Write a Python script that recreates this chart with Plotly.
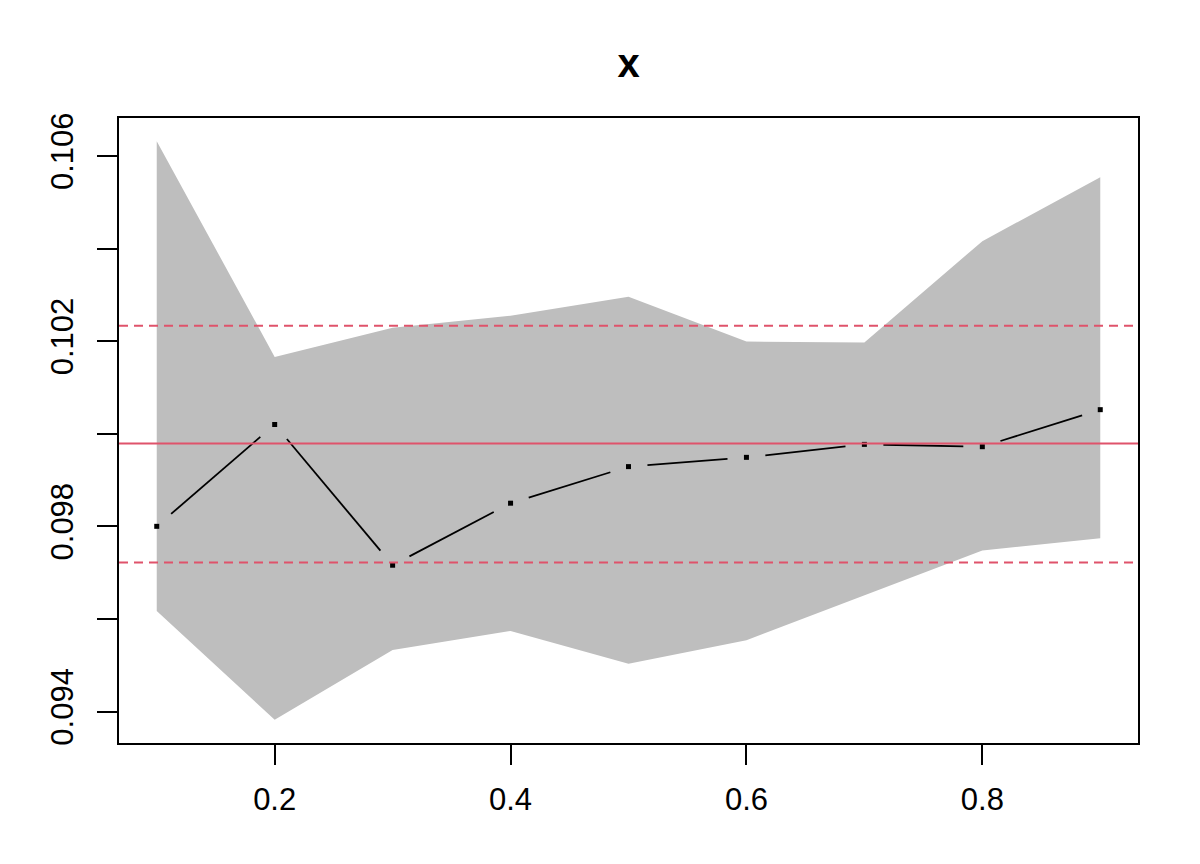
import plotly.graph_objects as go
import numpy as np

# data
x = [0.1, 0.2, 0.3, 0.4, 0.5, 0.6, 0.7, 0.8, 0.9]
est = [0.09800, 0.10020, 0.09716, 0.09850, 0.09929, 0.09949, 0.09977, 0.09972, 0.10052]
upper = [0.10632, 0.10166, 0.10229, 0.10255, 0.10296, 0.10199, 0.10197, 0.10416, 0.10554]
lower = [0.09617, 0.09382, 0.09533, 0.09574, 0.09503, 0.09554, 0.09651, 0.09748, 0.09774]
mean_line = 0.09979
ci_lines = [0.10233, 0.09722]

y_ticks = [0.094, 0.096, 0.098, 0.100, 0.102, 0.104, 0.106]
y_tick_text = ["0.094", "", "0.098", "", "0.102", "", "0.106"]
x_ticks = [0.2, 0.4, 0.6, 0.8]

RED = "#DF536B"
FONT = "Liberation Sans, Arial"
# page body has an 8px margin, so the figure is a bit smaller than the window
W, H = 1184, 848
ML, MR, MT, MB = 111, 54, 110, 113

# R-style 4% axis expansion
def expand(lo, hi):
    d = (hi - lo) * 0.04
    return [lo - d, hi + d]

xr = expand(min(x), max(x))
yr = expand(min(lower), max(upper))
px_x = (W - ML - MR) / (xr[1] - xr[0])
px_y = (H - MT - MB) / (yr[1] - yr[0])

fig = go.Figure()

# shaded band
fig.add_trace(go.Scatter(
    x=x + x[::-1], y=upper + lower[::-1],
    fill="toself", fillcolor="#BEBEBE", line=dict(width=0),
    mode="lines", hoverinfo="skip"
))

# reference lines
fig.add_hline(y=mean_line, line=dict(color=RED, width=2))
for v in ci_lines:
    fig.add_hline(y=v, line=dict(color=RED, width=2, dash="9px,6px"))

# type="b" style line: segments with a gap around each point
gap = 19
sx, sy = [], []
for i in range(len(x) - 1):
    dx = (x[i + 1] - x[i]) * px_x
    dy = (est[i + 1] - est[i]) * px_y
    d = np.hypot(dx, dy)
    if d <= 2 * gap:
        continue
    f = gap / d
    sx += [x[i] + (x[i + 1] - x[i]) * f, x[i + 1] - (x[i + 1] - x[i]) * f, None]
    sy += [est[i] + (est[i + 1] - est[i]) * f, est[i + 1] - (est[i + 1] - est[i]) * f, None]
fig.add_trace(go.Scatter(x=sx, y=sy, mode="lines",
                         line=dict(color="black", width=1.8), hoverinfo="skip"))
fig.add_trace(go.Scatter(x=x, y=est, mode="markers",
                         marker=dict(symbol="square", size=5, color="black")))

axis_common = dict(
    showline=True, linecolor="black", linewidth=1.8, mirror=True,
    ticks="outside", ticklen=20, tickwidth=1.8, tickcolor="black",
    showgrid=False, zeroline=False,
    tickfont=dict(family=FONT, size=31, color="black"),
)

fig.update_layout(
    width=W, height=H,
    margin=dict(l=ML, r=MR, t=MT, b=MB),
    paper_bgcolor="white", plot_bgcolor="white",
    showlegend=False,
    title=dict(text="<b>x</b>", x=(ML + (W - MR)) / 2 / W, xanchor="center",
               y=1 - 55 / H, yanchor="middle",
               font=dict(family=FONT, size=40, color="black")),
    xaxis=dict(range=xr, tickvals=x_ticks, ticktext=[str(v) for v in x_ticks],
               ticklabelstandoff=8, **axis_common),
    yaxis=dict(range=yr, tickvals=y_ticks, ticktext=y_tick_text, tickangle=-90,
               ticklabelstandoff=12, **axis_common),
)

fig.write_html("out.html")
